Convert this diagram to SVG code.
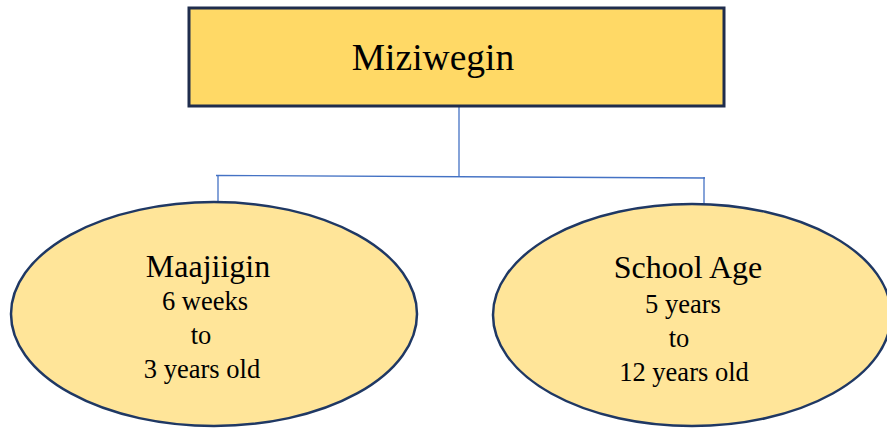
<svg xmlns="http://www.w3.org/2000/svg" width="887" height="428" viewBox="0 0 887 428">
<style>
.t{font-family:"Liberation Serif","Times New Roman",serif;fill:#000;text-anchor:middle}
.h{font-size:32px}
.s{font-size:26.5px}
.conn{stroke:#4472c4;stroke-width:1.3;fill:none}
.oval{fill:#ffe599;stroke:#1f3864;stroke-width:2.5}
</style>
<rect width="887" height="428" fill="#fff"/>
<g id="connectors">
<line class="conn" x1="459" y1="106" x2="459" y2="177"/>
<line class="conn" x1="216" y1="175.5" x2="705" y2="178"/>
<line class="conn" x1="218" y1="175" x2="218" y2="202"/>
<line class="conn" x1="704" y1="177" x2="704" y2="204"/>
</g>
<g id="root">
<rect x="189" y="8" width="535" height="98" fill="#ffd966" stroke="#1f2d4d" stroke-width="3"/>
<text class="t" x="433" y="70" font-size="37.5">Miziwegin</text>
</g>
<g id="maajiigin">
<ellipse class="oval" cx="214" cy="314" rx="203" ry="112"/>
<text class="t h" x="208" y="277">Maajiigin</text>
<text class="t s" x="205" y="310">6 weeks</text>
<text class="t s" x="201" y="344">to</text>
<text class="t s" x="202" y="378">3 years old</text>
</g>
<g id="schoolage">
<ellipse class="oval" cx="692" cy="315" rx="199" ry="111"/>
<text class="t h" x="688" y="278">School Age</text>
<text class="t s" x="683" y="313">5 years</text>
<text class="t s" x="679" y="347">to</text>
<text class="t s" x="684" y="381">12 years old</text>
</g>
</svg>
